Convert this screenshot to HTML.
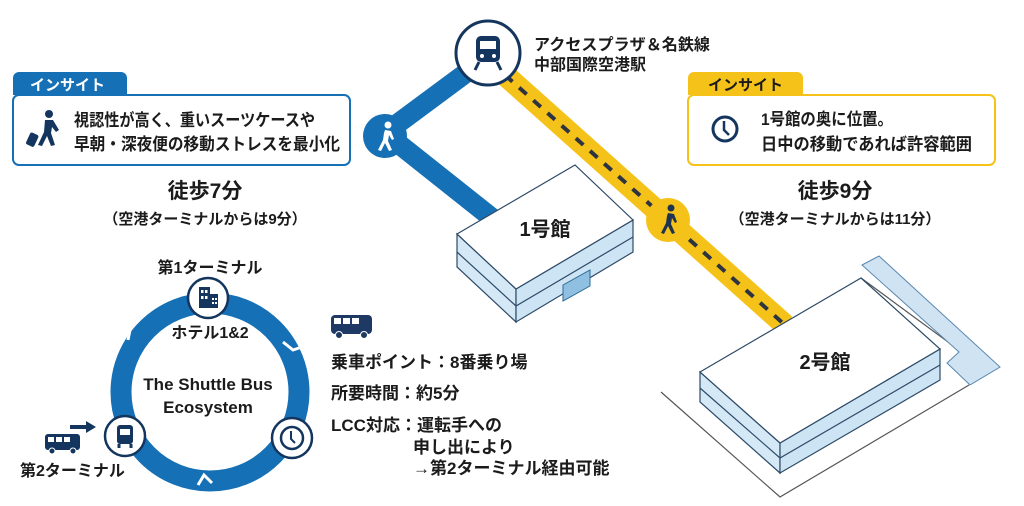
<!DOCTYPE html>
<html><head><meta charset="utf-8"><style>
html,body{margin:0;padding:0;background:#fff;}
svg{display:block;}
text{font-family:"Liberation Sans","Noto Sans CJK JP",sans-serif;font-weight:bold;fill:#1b1b1b;}
</style></head><body>
<svg width="1024" height="506" viewBox="0 0 1024 506" xmlns="http://www.w3.org/2000/svg">
<!-- ground lines for building 2 -->
<polyline points="661,392 780,497 969,385" fill="none" stroke="#555" stroke-width="1.2"/>
<polyline points="861,278 959,350 959,368" fill="none" stroke="#555" stroke-width="1.2"/>
<polygon points="862,265 879,256 1000,367 970,385 947,363 959,352" fill="#cfe3f3" stroke="#5a88b0" stroke-width="1"/>

<!-- blue route -->
<polyline points="470,70 385,133 492,218" fill="none" stroke="#1670b5" stroke-width="20" stroke-linejoin="round"/>
<circle cx="385" cy="136" r="22" fill="#1670b5"/>
<g fill="#fff"><circle cx="388" cy="125" r="3.5"/><path d="M385 130 l6 1 l3 8 l-2 1 l-3 -5 l-1 6 l4 9 l-3 1 l-4 -8 l-4 8 l-3 -1 l5 -10 l1 -7 z"/></g>

<!-- yellow route -->
<line x1="505" y1="75" x2="785" y2="325" stroke="#f5c21a" stroke-width="22"/>
<line x1="505" y1="75" x2="785" y2="325" stroke="#2d3440" stroke-width="4" stroke-dasharray="10,9"/>
<circle cx="668" cy="220" r="22" fill="#f5c21a"/>
<g fill="#1e3350"><circle cx="671" cy="208" r="3.5"/><path d="M668 213 l6 1 l3 8 l-2 1 l-3 -5 l-1 6 l4 9 l-3 1 l-4 -8 l-4 8 l-3 -1 l5 -10 l1 -7 z"/></g>

<!-- station -->
<circle cx="488" cy="53" r="32" fill="#fff" stroke="#14365e" stroke-width="3"/>
<rect x="476" y="36" width="24" height="26" rx="5" fill="#14365e"/>
<rect x="480" y="41" width="16" height="8" fill="#fff"/>
<circle cx="482" cy="56" r="2" fill="#fff"/><circle cx="494" cy="56" r="2" fill="#fff"/>
<path d="M479 62 l-4 8 M497 62 l4 8" stroke="#14365e" stroke-width="3"/>
<text x="534" y="50" font-size="16" textLength="176" lengthAdjust="spacingAndGlyphs">アクセスプラザ＆名鉄線</text>
<text x="534" y="70" font-size="16" textLength="112" lengthAdjust="spacingAndGlyphs">中部国際空港駅</text>

<!-- building 1 -->
<polygon points="457,234 516,289 516,322 457,267" fill="#d4e8f6" stroke="#2d4a66" stroke-width="1.2"/>
<polygon points="516,289 633,220 633,252 516,322" fill="#cde4f4" stroke="#2d4a66" stroke-width="1.2"/>
<polyline points="457,252 516,306 633,237" fill="none" stroke="#2d4a66" stroke-width="1.2"/>
<polygon points="563,285 590,270 590,286 563,301" fill="#8fc0e2" stroke="#2d6a96" stroke-width="1"/>
<polygon points="457,234 575,165 633,220 516,289" fill="#fff" stroke="#2d4a66" stroke-width="1.2"/>
<text x="545" y="236" font-size="20" text-anchor="middle">1号館</text>

<!-- building 2 -->
<polygon points="700,372 780,443 780,473 700,402" fill="#d4e8f6" stroke="#2d4a66" stroke-width="1.2"/>
<polygon points="780,443 940,349 940,380 780,473" fill="#cde4f4" stroke="#2d4a66" stroke-width="1.2"/>
<polyline points="700,388 780,458 940,365" fill="none" stroke="#2d4a66" stroke-width="1.2"/>
<polygon points="700,372 861,278 940,349 780,443" fill="#fff" stroke="#2d4a66" stroke-width="1.2"/>
<text x="825" y="369" font-size="20" text-anchor="middle">2号館</text>

<!-- left insight -->
<path d="M13 95 V78 a6 6 0 0 1 6 -6 H121 a6 6 0 0 1 6 6 V95 Z" fill="#1670b5"/>
<text x="30" y="90" font-size="15" style="fill:#fff">インサイト</text>
<rect x="13" y="95" width="337" height="70" rx="6" fill="#fff" stroke="#1670b5" stroke-width="2"/>
<g fill="#14365e"><circle cx="49" cy="114" r="4"/><path d="M45 120 l8 0 l6 10 l-3 2 l-4 -5 l-1 6 l4 12 l-4 1 l-4 -10 l-5 10 l-4 -1 l6 -13 z"/><rect x="28" y="133" width="9" height="13" rx="2" transform="rotate(25 32 139)"/></g>
<text x="74" y="126" font-size="17" textLength="241" lengthAdjust="spacingAndGlyphs">視認性が高く、重いスーツケースや</text>
<text x="74" y="150" font-size="17" textLength="266" lengthAdjust="spacingAndGlyphs">早朝・深夜便の移動ストレスを最小化</text>
<text x="205" y="198" font-size="21" text-anchor="middle">徒歩7分</text>
<text x="205" y="224" font-size="15" text-anchor="middle">（空港ターミナルからは9分）</text>

<!-- right insight -->
<path d="M688 95 V78 a6 6 0 0 1 6 -6 H797 a6 6 0 0 1 6 6 V95 Z" fill="#f5c21a"/>
<text x="708" y="90" font-size="15">インサイト</text>
<rect x="688" y="95" width="307" height="70" rx="6" fill="#fff" stroke="#f5c21a" stroke-width="2"/>
<circle cx="725" cy="129" r="12" fill="none" stroke="#14365e" stroke-width="3"/>
<path d="M724 121 v9 l5 5" fill="none" stroke="#14365e" stroke-width="2.5"/>
<text x="761" y="125" font-size="17" textLength="132" lengthAdjust="spacingAndGlyphs">1号館の奥に位置。</text>
<text x="761" y="150" font-size="17" textLength="211" lengthAdjust="spacingAndGlyphs">日中の移動であれば許容範囲</text>
<text x="835" y="198" font-size="21" text-anchor="middle">徒歩9分</text>
<text x="835" y="224" font-size="15" text-anchor="middle">（空港ターミナルからは11分）</text>

<!-- shuttle ring -->
<circle cx="210" cy="392" r="89" fill="none" stroke="#1670b5" stroke-width="21"/>
<g stroke="#fff" stroke-width="3" fill="none">
<path d="M283 342 l10 8 l12 -4"/><path d="M212 483 l-8 -8 l-6 10"/><path d="M128 340 l2 -10 l-10 -4"/>
</g>
<circle cx="208" cy="298" r="20" fill="#fff" stroke="#14365e" stroke-width="2.5"/>
<g fill="#14365e"><rect x="199" y="287" width="11" height="21"/><rect x="210" y="294" width="8" height="14"/></g>
<g fill="#fff"><rect x="201" y="290" width="2.5" height="3"/><rect x="205" y="290" width="2.5" height="3"/><rect x="201" y="296" width="2.5" height="3"/><rect x="205" y="296" width="2.5" height="3"/><rect x="212" y="298" width="2" height="2"/><rect x="215" y="298" width="2" height="2"/><rect x="212" y="302" width="2" height="2"/><rect x="215" y="302" width="2" height="2"/></g>
<circle cx="125" cy="436" r="20" fill="#fff" stroke="#14365e" stroke-width="2.5"/>
<rect x="117" y="425" width="16" height="19" rx="3" fill="#14365e"/>
<rect x="120" y="429" width="10" height="6" fill="#fff"/>
<path d="M119 444 v4 M131 444 v4" stroke="#14365e" stroke-width="3"/>
<circle cx="292" cy="438" r="20" fill="#fff" stroke="#14365e" stroke-width="2.5"/>
<circle cx="292" cy="438" r="11" fill="none" stroke="#14365e" stroke-width="2.5"/>
<path d="M291 431 v8 l4 4" fill="none" stroke="#14365e" stroke-width="2"/>
<text x="210" y="273" font-size="16" text-anchor="middle">第1ターミナル</text>
<text x="210" y="338" font-size="16" text-anchor="middle">ホテル1&amp;2</text>
<text x="208" y="390" font-size="17" text-anchor="middle">The Shuttle Bus</text>
<text x="208" y="413" font-size="17" text-anchor="middle">Ecosystem</text>
<!-- bus left -->
<rect x="45" y="434" width="35" height="16" rx="3" fill="#14365e"/>
<g fill="#fff"><rect x="48" y="437" width="6" height="5"/><rect x="56" y="437" width="6" height="5"/><rect x="64" y="437" width="6" height="5"/></g>
<circle cx="52" cy="451" r="3" fill="#14365e" stroke="#fff"/><circle cx="73" cy="451" r="3" fill="#14365e" stroke="#fff"/>
<path d="M70 427 h18" stroke="#14365e" stroke-width="4"/><path d="M86 421 l10 6 l-10 6 z" fill="#14365e"/>
<text x="20" y="476" font-size="16">第2ターミナル</text>

<!-- right info -->
<rect x="331" y="315" width="41" height="19" rx="4" fill="#1e3a64"/>
<g fill="#fff"><rect x="334" y="318" width="7" height="6"/><rect x="343" y="318" width="7" height="6"/><rect x="352" y="318" width="7" height="6"/></g>
<circle cx="339" cy="335" r="3.5" fill="#1e3a64" stroke="#fff"/><circle cx="364" cy="335" r="3.5" fill="#1e3a64" stroke="#fff"/>
<text x="331" y="368" font-size="17">乗車ポイント：8番乗り場</text>
<text x="331" y="399" font-size="17">所要時間：約5分</text>
<text x="331" y="431" font-size="17">LCC対応：運転手への</text>
<text x="413" y="453" font-size="17">申し出により</text>
<text x="413" y="474" font-size="17">→第2ターミナル経由可能</text>
</svg>
</body></html>
